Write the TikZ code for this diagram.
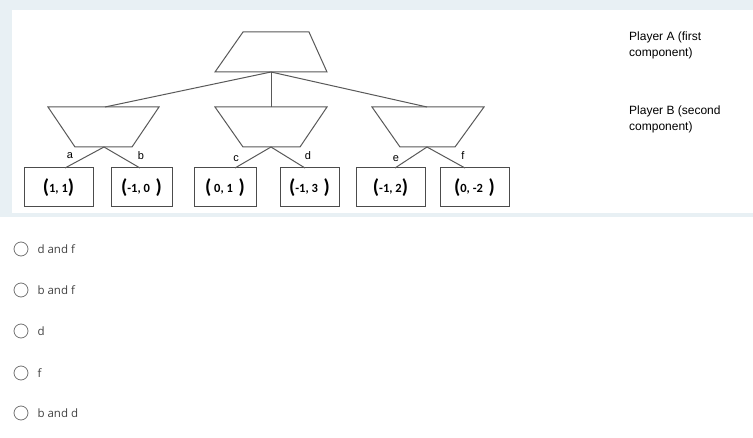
\documentclass[tikz,border=0pt]{standalone}
\usepackage{fontspec}
\setmainfont{Liberation Sans}
\newfontfamily\optfont{Open Sans}
\newfontfamily\payfont{Carlito}
\newcommand{\lp}{{\fontsize{20}{20}\selectfont\raisebox{-1pt}{(}}}
\newcommand{\rp}{{\fontsize{20}{20}\selectfont\raisebox{-1pt}{)}}}
\begin{document}
\begin{tikzpicture}[x=1pt,y=-1pt,
  ln/.style={draw=black!65,line width=1pt},
  pay/.style={draw=black!70,line width=1pt},
  lab/.style={font=\fontsize{11}{12}\selectfont},
  ptxt/.style={font=\payfont\fontsize{12.5}{13}\selectfont\bfseries,anchor=center},
  opt/.style={font=\optfont\fontsize{11.5}{13}\selectfont,text=black!75,anchor=west},
  rad/.style={draw=black!55,line width=0.8pt}]
\useasboundingbox (0,0) rectangle (753,438);
\fill[fill={rgb,255:red,232;green,240;blue,244}] (0,0) rectangle (753,217);
\fill[white] (12,10) rectangle (753,213);
% trapezoids
\draw[ln] (243,32) -- (309,32) -- (327,72) -- (215,72) -- cycle;
\draw[ln] (48,107) -- (159,107) -- (132,147) -- (75,147) -- cycle;
\draw[ln] (215,107) -- (327,107) -- (300,147) -- (243,147) -- cycle;
\draw[ln] (372,107) -- (484,107) -- (455,147) -- (400,147) -- cycle;
\coordinate (r) at (271,72);
\coordinate (l1) at (105,107); \coordinate (l2) at (271,107); \coordinate (l3) at (427,107);
\coordinate (p1) at (104,147); \coordinate (p2) at (271,147); \coordinate (p3) at (427,147);
\draw[ln] (r) -- (l1); \draw[ln] (r) -- (l2); \draw[ln] (r) -- (l3);
% payoff boxes
\foreach \n/\xa/\xb/\t in {ba/24/93/{\lp1, 1\rp}, bb/111/172/{\lp-1, 0\ \ \rp}, bc/194/256/{\lp\ 0, 1\ \ \rp}, bd/280/339/{\lp-1, 3\ \ \rp}, be/356/425/{\lp-1, 2\rp}, bf/440/509/{\lp0, -2\ \ \rp}}{
  \draw[pay] (\xa,168) rectangle (\xb,207);
  \node[ptxt] (\n) at ({(\xa+\xb)/2},188) {\t};
}
\coordinate (ta) at (65,168); \coordinate (tb) at (140,168);
\coordinate (tc) at (235,168); \coordinate (td) at (305,168);
\coordinate (te) at (395,168); \coordinate (tf) at (465,168);
\draw[ln] (p1) -- (ta); \draw[ln] (p1) -- (tb);
\draw[ln] (p2) -- (tc); \draw[ln] (p2) -- (td);
\draw[ln] (p3) -- (te); \draw[ln] (p3) -- (tf);
\node[lab] (la) at (70,156) {a}; \node[lab] (lb) at (141,156) {b};
\node[lab] (lc) at (236,159) {c}; \node[lab] (ld) at (308,156) {d};
\node[lab] (le) at (396,159) {e}; \node[lab] (lf) at (463,156) {f};
\node[anchor=north west,align=left,font=\fontsize{12}{16}\selectfont,inner sep=0] (pa) at (629,32) {Player A (first\\component)};
\node[anchor=north west,align=left,font=\fontsize{12}{16}\selectfont,inner sep=0] (pb) at (629,106) {Player B (second\\component)};
% options
\foreach \n/\y/\t in {o1/249/d and f, o2/290/b and f, o3/331/d, o4/373/f, o5/413/b and d}{
  \draw[rad] (21,\y) circle (7);
  \node[opt] (\n) at (34,\y) {\t};
}
\end{tikzpicture}
\end{document}
